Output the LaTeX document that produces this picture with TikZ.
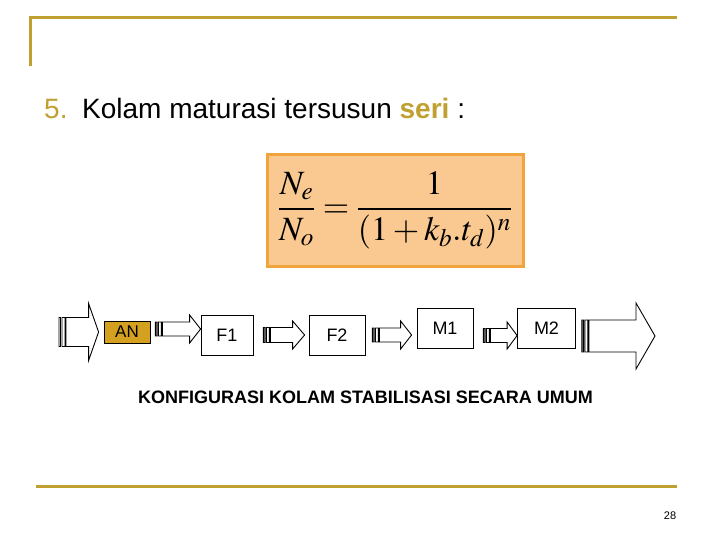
\documentclass[tikz,border=0pt]{standalone}
\usepackage{mathptmx}
\usepackage{fontspec}
\setmainfont{Liberation Sans}
\usetikzlibrary{positioning,calc}
\definecolor{slidegold}{RGB}{191,160,48}
\definecolor{angold}{RGB}{212,160,32}
\definecolor{peach}{RGB}{250,201,145}
\definecolor{peachline}{RGB}{242,164,60}
% striped block arrow: #1 tail, #2 tip, #3 shaft half width, #4 head half width, #5 head length
\newcommand{\stripedarrow}[5]{%
\draw[blockline] let \p1=#1, \p2=#2 in
  (\x1,\y1-#3) rectangle (\x1+1.5pt,\y1+#3)
  (\x1+3pt,\y1-#3) rectangle (\x1+6pt,\y1+#3)
  (\x1+7pt,\y1-#3) -- (\x2-#5,\y1-#3) -- (\x2-#5,\y1-#4) -- (\x2,\y1)
  -- (\x2-#5,\y1+#4) -- (\x2-#5,\y1+#3) -- (\x1+7pt,\y1+#3) -- cycle;}
\begin{document}
\begin{tikzpicture}[x=1pt,y=-1pt,node distance=1cm,
  tank/.style={draw,line width=0.8pt,fill=white,minimum width=#1,minimum height=40pt,inner sep=0pt,font=\fontsize{18}{20}\selectfont},
  blockline/.style={draw,line width=0.9pt,fill=white,line join=miter}]
\useasboundingbox (0,0) rectangle (720,540);
% slide frame
\draw[slidegold,line width=3pt] (30,66) -- (30,18) -- (677,18);
\draw[slidegold,line width=3pt] (36,486) -- (677,486);
\node[anchor=base west,inner sep=0pt,text=slidegold,font=\fontsize{28}{32}\selectfont](num) at (44,119){5.};
\node[anchor=base west,inner sep=0pt,font=\fontsize{28}{32}\selectfont](title) at (82,119){Kolam maturasi tersusun \textcolor{slidegold}{\textbf{seri}} :};
% formula
\node[draw=peachline,fill=peach,line width=3pt,minimum width=256pt,minimum height=111pt,inner sep=0pt](eq) at (395,210.5)
  {\fontsize{34}{40}\selectfont$\displaystyle\frac{N_{e}}{N_{o}}=\frac{1}{(1+k_{b}.t_{d})^{n}}$};
% ponds
\node[draw,line width=0.8pt,fill=angold,minimum width=46pt,minimum height=22pt,inner sep=0pt,font=\fontsize{17}{19}\selectfont](an) at (127,332){AN};
\node[tank=52pt](f1) at (227,335){F1};
\node[tank=56pt](f2) at (337,335){F2};
\node[tank=56pt](m1) at (445,328.5){M1};
\node[tank=58pt](m2) at (546.5,328.5){M2};
\coordinate (in) at (59,332);
\coordinate (out) at (655,336);
% flow
\stripedarrow{(in)}{([xshift=-5pt]an.west)}{14.5pt}{28.5pt}{10pt}
\stripedarrow{([shift={(5,-3)}]an.east)}{(f1.west)}{7pt}{14pt}{11pt}
\stripedarrow{([xshift=10pt]f1.east)}{([xshift=-4pt]f2.west)}{7.5pt}{14pt}{12pt}
\stripedarrow{([xshift=7pt]f2.east)}{([xshift=-5pt]m1.west)}{7pt}{14pt}{11pt}
\stripedarrow{([shift={(10,7)}]m1.east)}{(m2.west)}{7pt}{13.5pt}{10pt}
\stripedarrow{([shift={(6,7.5)}]m2.east)}{(out)}{16pt}{33pt}{19pt}
\node[font=\bfseries\fontsize{18}{20}\selectfont,inner sep=0pt](cap) at (365.5,397){KONFIGURASI KOLAM STABILISASI SECARA UMUM};
\node[font=\fontsize{11}{12}\selectfont,inner sep=0pt](page) at (670,516){28};
\end{tikzpicture}
\end{document}
